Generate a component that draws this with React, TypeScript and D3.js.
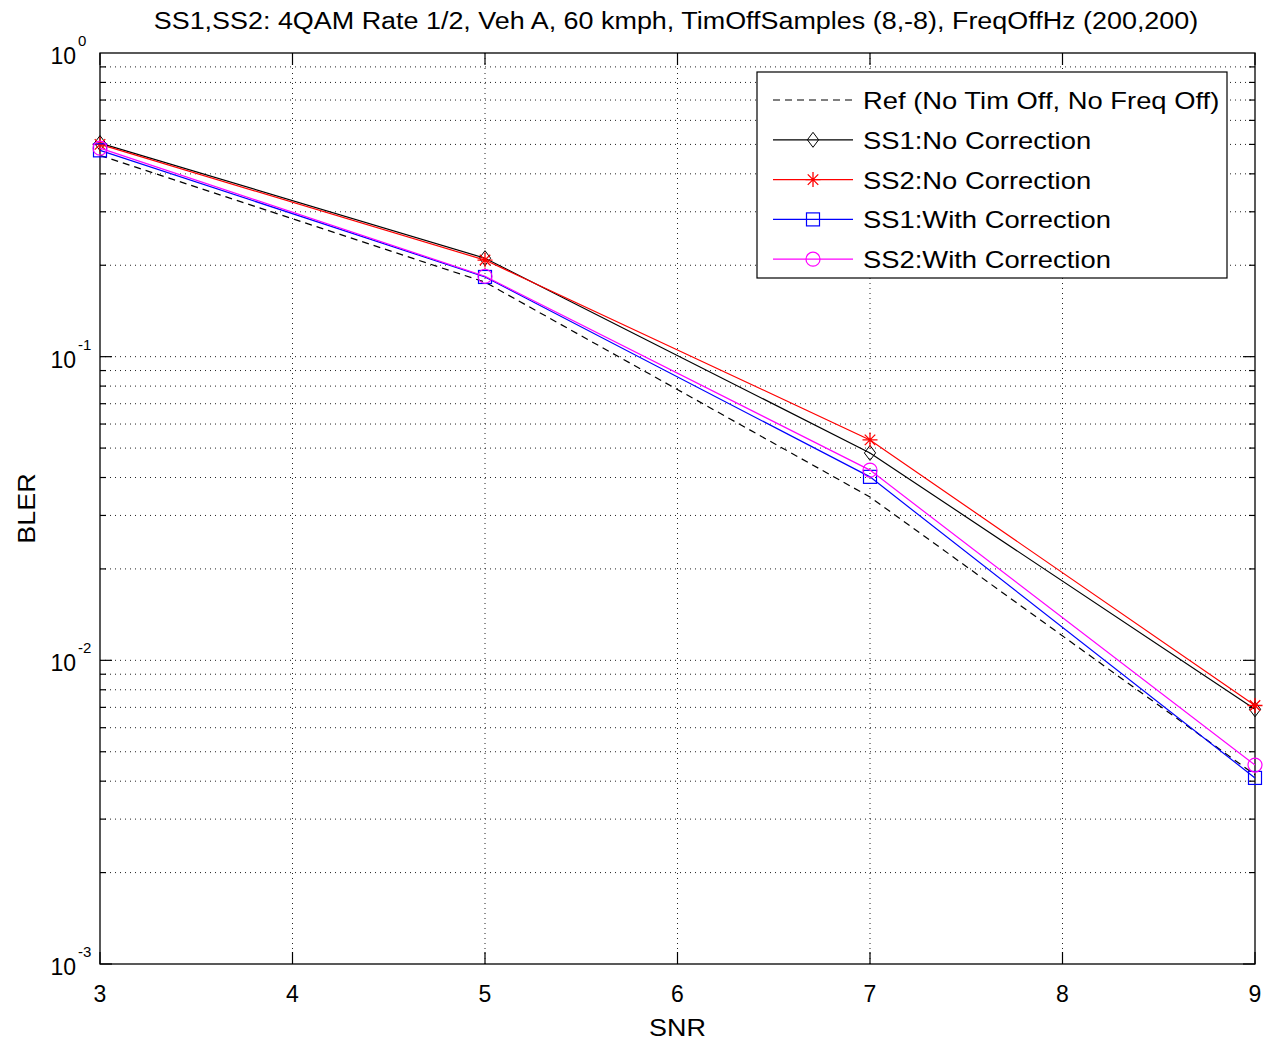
import React, { useEffect, useRef } from "react";
import * as d3 from "d3";

const snr = [3, 5, 7, 9];
const refBler = [0.46, 0.176, 0.0345, 0.0042];
const ss1NoCorr = [0.505, 0.211, 0.0482, 0.0069];
const ss2NoCorr = [0.5, 0.208, 0.0532, 0.0071];
const ss1WithCorr = [0.478, 0.183, 0.0402, 0.0041];
const ss2WithCorr = [0.486, 0.184, 0.0423, 0.00452];

const xTicks = [3, 4, 5, 6, 7, 8, 9];
const yDecades = [0, -1, -2, -3];

const titleText =
  "SS1,SS2: 4QAM Rate 1/2, Veh A, 60 kmph, TimOffSamples (8,-8), FreqOffHz (200,200)";

type Series = {
  name: string;
  values: number[];
  color: string;
  dash: string | null;
  marker: "none" | "diamond" | "star" | "square" | "circle";
};

const series: Series[] = [
  { name: "Ref (No Tim Off, No Freq Off)", values: refBler, color: "#000000", dash: "7,5", marker: "none" },
  { name: "SS1:No Correction", values: ss1NoCorr, color: "#000000", dash: null, marker: "diamond" },
  { name: "SS2:No Correction", values: ss2NoCorr, color: "#ff0000", dash: null, marker: "star" },
  { name: "SS1:With Correction", values: ss1WithCorr, color: "#0000ff", dash: null, marker: "square" },
  { name: "SS2:With Correction", values: ss2WithCorr, color: "#ff00ff", dash: null, marker: "circle" },
];

const W = 1266;
const H = 1042;
const M = { left: 100, right: 1255, top: 53, bottom: 964 };
const FONT = "'Liberation Sans', Arial, Helvetica, sans-serif";
const WIDE = 1.17;

// stretch a text element horizontally so its glyphs look like a wide sans face
function widen(t: d3.Selection<SVGTextElement, unknown, null, undefined>, factor = WIDE) {
  const node = t.node();
  if (!node) return;
  const len = node.getComputedTextLength();
  t.attr("textLength", len * factor).attr("lengthAdjust", "spacingAndGlyphs");
}

function drawMarker(
  g: d3.Selection<SVGGElement, unknown, null, undefined>,
  kind: Series["marker"],
  cx: number,
  cy: number,
  color: string
) {
  if (kind === "diamond") {
    const s = 7.5;
    g.append("path")
      .attr("d", `M${cx},${cy - s}L${cx + s * 0.75},${cy}L${cx},${cy + s}L${cx - s * 0.75},${cy}Z`)
      .attr("fill", "none")
      .attr("stroke", color)
      .attr("stroke-width", 1);
  } else if (kind === "square") {
    const s = 6.5;
    g.append("rect")
      .attr("x", cx - s)
      .attr("y", cy - s)
      .attr("width", 2 * s)
      .attr("height", 2 * s)
      .attr("fill", "none")
      .attr("stroke", color)
      .attr("stroke-width", 1.2);
  } else if (kind === "circle") {
    g.append("circle")
      .attr("cx", cx)
      .attr("cy", cy)
      .attr("r", 7)
      .attr("fill", "none")
      .attr("stroke", color)
      .attr("stroke-width", 1.2);
  } else if (kind === "star") {
    const s = 7.5;
    const d = s * 0.7;
    g.append("path")
      .attr(
        "d",
        `M${cx - s},${cy}L${cx + s},${cy}M${cx},${cy - s}L${cx},${cy + s}` +
          `M${cx - d},${cy - d}L${cx + d},${cy + d}M${cx - d},${cy + d}L${cx + d},${cy - d}`
      )
      .attr("stroke", color)
      .attr("stroke-width", 1.3);
  }
}

export default function App() {
  const ref = useRef<SVGSVGElement | null>(null);

  useEffect(() => {
    const svg = d3.select(ref.current as SVGSVGElement);
    svg.selectAll("*").remove();

    const x = d3.scaleLinear().domain([3, 9]).range([M.left, M.right]);
    const y = d3.scaleLog().domain([1e-3, 1]).range([M.bottom, M.top]);

    svg.append("rect").attr("width", W).attr("height", H).attr("fill", "#ffffff");

    const grid = svg.append("g");
    // vertical dotted grid
    xTicks.forEach((t) => {
      if (t === 3 || t === 9) return;
      grid
        .append("line")
        .attr("x1", x(t))
        .attr("x2", x(t))
        .attr("y1", M.top)
        .attr("y2", M.bottom)
        .attr("stroke", "#222")
        .attr("stroke-width", 1)
        .attr("stroke-dasharray", "1,4");
    });
    // horizontal dotted grid, major + minor
    const yGridVals: number[] = [];
    for (let e = -3; e < 0; e++) {
      for (let k = 1; k <= 9; k++) yGridVals.push(k * Math.pow(10, e));
    }
    yGridVals.forEach((v) => {
      if (v <= 1e-3) return;
      grid
        .append("line")
        .attr("x1", M.left)
        .attr("x2", M.right)
        .attr("y1", y(v))
        .attr("y2", y(v))
        .attr("stroke", "#222")
        .attr("stroke-width", 1)
        .attr("stroke-dasharray", "1,4");
    });

    // axis box
    svg
      .append("rect")
      .attr("x", M.left)
      .attr("y", M.top)
      .attr("width", M.right - M.left)
      .attr("height", M.bottom - M.top)
      .attr("fill", "none")
      .attr("stroke", "#000")
      .attr("stroke-width", 1.3);

    const ticks = svg.append("g").attr("stroke", "#000").attr("stroke-width", 1.2);
    xTicks.forEach((t) => {
      ticks.append("line").attr("x1", x(t)).attr("x2", x(t)).attr("y1", M.bottom).attr("y2", M.bottom - 12);
      ticks.append("line").attr("x1", x(t)).attr("x2", x(t)).attr("y1", M.top).attr("y2", M.top + 12);
    });
    yGridVals.forEach((v) => {
      const major = Math.abs(Math.log10(v) - Math.round(Math.log10(v))) < 1e-9;
      const len = major ? 12 : 6;
      ticks.append("line").attr("x1", M.left).attr("x2", M.left + len).attr("y1", y(v)).attr("y2", y(v));
      ticks.append("line").attr("x1", M.right).attr("x2", M.right - len).attr("y1", y(v)).attr("y2", y(v));
    });

    // x tick labels
    const xl = svg.append("g").attr("font-family", FONT).attr("font-size", 23).attr("fill", "#000");
    xTicks.forEach((t) => {
      xl.append("text").attr("x", x(t)).attr("y", 1002).attr("text-anchor", "middle").text(String(t));
    });

    // y tick labels 10^e
    const yl = svg.append("g").attr("font-family", FONT).attr("fill", "#000");
    yDecades.forEach((e) => {
      const yy = y(Math.pow(10, e));
      yl.append("text")
        .attr("x", 76)
        .attr("y", yy + 11)
        .attr("text-anchor", "end")
        .attr("font-size", 23)
        .text("10");
      yl.append("text")
        .attr("x", 78)
        .attr("y", yy - 7)
        .attr("text-anchor", "start")
        .attr("font-size", 15)
        .text(String(e));
    });

    // axis titles
    const snrLabel = svg
      .append("text")
      .attr("x", (M.left + M.right) / 2)
      .attr("y", 1036)
      .attr("text-anchor", "middle")
      .attr("font-family", FONT)
      .attr("font-size", 23)
      .text("SNR");
    widen(snrLabel);
    const blerLabel = svg
      .append("text")
      .attr("transform", `translate(35,${(M.top + M.bottom) / 2}) rotate(-90)`)
      .attr("text-anchor", "middle")
      .attr("font-family", FONT)
      .attr("font-size", 23)
      .text("BLER");
    widen(blerLabel);

    const title = svg
      .append("text")
      .attr("x", 676)
      .attr("y", 29)
      .attr("text-anchor", "middle")
      .attr("font-family", FONT)
      .attr("font-size", 23)
      .text(titleText);
    widen(title);

    // series
    const line = d3
      .line<number>()
      .x((_, i) => x(snr[i]))
      .y((d) => y(d));
    const plot = svg.append("g");
    series.forEach((s) => {
      const g = plot.append("g");
      g.append("path")
        .attr("d", line(s.values))
        .attr("fill", "none")
        .attr("stroke", s.color)
        .attr("stroke-width", 1.2)
        .attr("stroke-dasharray", s.dash ?? null);
      s.values.forEach((v, i) => drawMarker(g, s.marker, x(snr[i]), y(v), s.color));
    });

    // legend
    const lg = svg.append("g");
    lg.append("rect")
      .attr("x", 757)
      .attr("y", 72)
      .attr("width", 470)
      .attr("height", 206)
      .attr("fill", "#fff")
      .attr("stroke", "#000")
      .attr("stroke-width", 1.2);
    series.forEach((s, i) => {
      const yy = 100 + i * 39.8;
      lg.append("line")
        .attr("x1", 773)
        .attr("x2", 853)
        .attr("y1", yy)
        .attr("y2", yy)
        .attr("stroke", s.color)
        .attr("stroke-width", 1.2)
        .attr("stroke-dasharray", s.dash ?? null);
      drawMarker(lg, s.marker, 813, yy, s.color);
      const t = lg
        .append("text")
        .attr("x", 863)
        .attr("y", yy + 9)
        .attr("font-family", FONT)
        .attr("font-size", 24)
        .attr("fill", "#000")
        .text(s.name);
      widen(t, 1.14);
    });
  }, []);

  return (
    <svg
      ref={ref}
      width={W}
      height={H}
      style={{ position: "absolute", left: 0, top: 0, display: "block" }}
    />
  );
}
